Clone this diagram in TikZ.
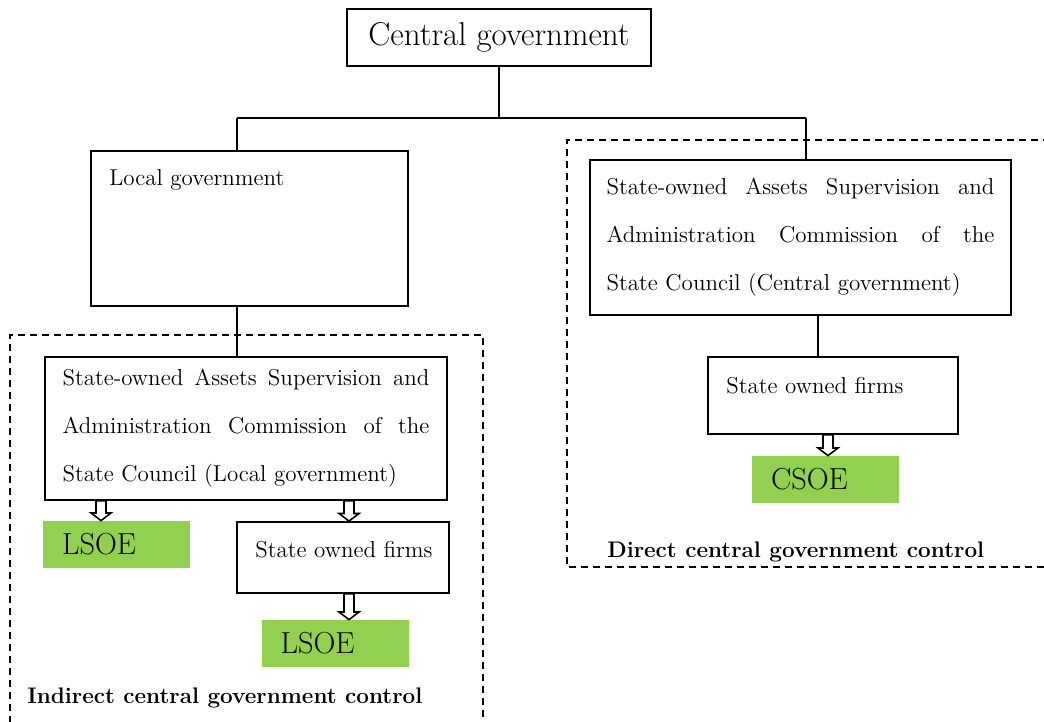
\documentclass[tikz,border=0pt]{standalone}
\usepackage{tikz}
\usetikzlibrary{calc,positioning}

\definecolor{soegreen}{RGB}{146,208,80}

\tikzset{
  box/.style={draw,line width=0.9pt,inner sep=0pt},
  txt/.style={inner sep=0pt,font=\fontsize{11.5}{13}\selectfont},
  sasac/.style={box,align=left,inner ysep=0pt,minimum height=#1,font=\fontsize{11.5}{24}\selectfont},
  soe/.style={fill=soegreen,inner ysep=0pt,inner xsep=9.5pt,text width=54.5pt,minimum height=23.5pt,align=left,font=\fontsize{15.2}{17}\selectfont},
  lbl/.style={inner sep=0pt,font=\fontsize{11.25}{13}\selectfont\bfseries},
  dbox/.style={line width=0.75pt,dash pattern=on 3.5pt off 2.5pt},
  hollow/.style={draw,line width=0.8pt,fill=white}
}

% open block arrow pointing down, from #1 to #2
\newcommand{\hollowdown}[2]{%
  \path[hollow] let \p1=(#1), \p2=(#2) in
    (\x1-2.5pt,\y1) -- (\x1-2.5pt,\y2+3.8pt) -- (\x1-5pt,\y2+3.8pt) -- (\x1,\y2)
    -- (\x1+5pt,\y2+3.8pt) -- (\x1+2.5pt,\y2+3.8pt) -- (\x1+2.5pt,\y1) -- cycle;}

\begin{document}
\begin{tikzpicture}[x=0.5pt,y=-0.5pt]
\useasboundingbox (0,0) rectangle (1044,722);

% dashed frames
\draw[dbox] (10,735) -- (10,335) -- (483,335) -- (483,735);
\draw[dbox] (1050,140) -- (567,140) -- (567,567) -- (1050,567);

% boxes
\node[box,minimum width=152pt,minimum height=28.5pt,font=\fontsize{16.5}{19}\selectfont] (central) at (499,37.5) {Central government};
\node[box,minimum width=158.5pt,minimum height=77.5pt] (locgov) at (249.5,228.5) {};
\node[txt,anchor=west] (locgovtxt) at (109,180) {Local government};

\node[sasac=71.5pt,text width=183.5pt,inner xsep=8.75pt] (sasacL) at (246,428.5)
  {State-owned\hfill Assets\hfill Supervision\hfill and\\
   Administration\hfill Commission\hfill of\hfill the\\
   State Council (Local government)};
\node[sasac=77.5pt,text width=194pt,inner xsep=8.25pt] (sasacR) at (800.5,237.5)
  {State-owned\hfill Assets\hfill Supervision\hfill and\\
   Administration\hfill Commission\hfill of\hfill the\\
   State Council (Central government)};

\node[box,minimum width=106pt,minimum height=35.5pt] (firmsL) at (343,557.5) {};
\node[txt,anchor=west] (firmsLtxt) at (255,550) {State owned firms};
\node[box,minimum width=125pt,minimum height=38.5pt] (firmsR) at (833,395.5) {};
\node[txt,anchor=west] (firmsRtxt) at (726,386) {State owned firms};

\node[soe] (lsoeA) at (116.5,544.5) {LSOE};
\node[soe] (lsoeB) at (335,643.5) {LSOE};
\node[soe] (csoe) at (825.5,479.5) {CSOE};

\node[lbl,anchor=west] (indirect) at (27,698) {Indirect central government control};
\node[lbl,anchor=west] (direct) at (607,552) {Direct central government control};

% tree lines
\coordinate (jl) at (237,118);
\coordinate (jr) at (806,118);
\coordinate (rdown) at (818,0);
\draw[line width=0.9pt] (central.south) -- (central.south |- jl);
\draw[line width=0.9pt] (jl) -- (jr);
\draw[line width=0.9pt] (jl) -- (jl |- locgov.north);
\draw[line width=0.9pt] (jr) -- (jr |- sasacR.north);
\draw[line width=0.9pt] (jl |- locgov.south) -- (jl |- sasacL.north);
\draw[line width=0.9pt] (rdown |- sasacR.south) -- (rdown |- firmsR.north);

% block arrows
\coordinate (aA) at (101,0);
\coordinate (aB) at (349,0);
\coordinate (aD) at (828,0);
\hollowdown{aA |- sasacL.south}{aA |- lsoeA.north}
\hollowdown{aB |- sasacL.south}{aB |- firmsL.north}
\hollowdown{aB |- firmsL.south}{aB |- lsoeB.north}
\hollowdown{aD |- firmsR.south}{aD |- csoe.north}
\end{tikzpicture}
\end{document}
